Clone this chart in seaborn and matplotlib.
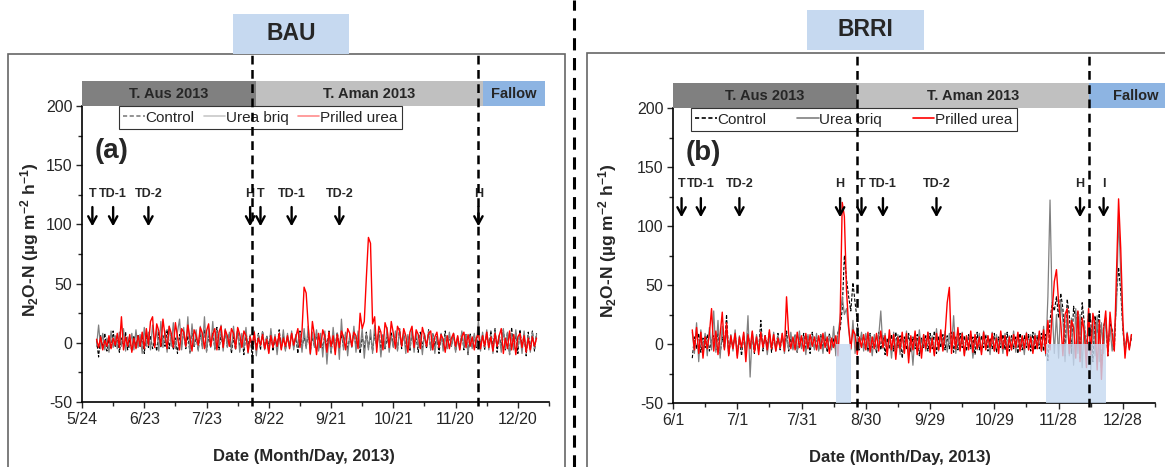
import numpy as np
import pandas as pd
import matplotlib
matplotlib.use('Agg')
import matplotlib.pyplot as plt
import seaborn as sns
from matplotlib.lines import Line2D
from matplotlib.patches import Rectangle

# daily N2O-N flux (ug m-2 h-1)
# BAU site, first value on 2013-05-31
bau_start = '2013-05-31'
bau_control = [2,-12,6,-4,8,-7,3,-5,10,-3, 5,-8,4,-3,9,-6,2,-7,6,-4, 7,-3,5,-9,8,-4,6,-5,3,-7,
               9,-4,6,-3,11,-5,8,-6,4,-9, 7,-3,10,-5,6,-8,12,-4,5,-6, 8,-3,11,-7,6,-4,9,-5,13,-6,
               7,-4,10,-3,8,-9,5,-6,12,-4, 6,-10,9,-3,7,-12,5,-4,8,-6, 10,-5,6,-3,9,-7,4,-5,11,-4,
               7,-6,5,-3,8,-4,6,-9,10,-5, 6,-4,9,-7,5,-3,8,-6,4,-5, 7,-4,10,-8,6,-3,9,-5,7,-4,
               8,-6,5,-3,11,-4,7,-9,6,-5, 9,-4,6,-7,8,-3,10,-5,7,-6, 5,-4,9,-3,7,-6,12,-5,8,-4,
               6,-7,10,-3,5,-8,9,-4,7,-5, 11,-6,8,-3,6,-9,7,-4,10,-5, 6,-3,8,-7,5,-4,9,-6,7,-10,
               8,-4,6,-5,12,-3,7,-6,9,-4, 10,-5,12,-8,7,-4,11,-6,9,-10, 13,-5,8,-9,11,-4,7,-11,9,-6,
               10,-7,8]
bau_urea_briq = [-3,15,-5,8,-6,4,-8,10,-4,6, -5,9,-3,12,-7,5,-4,8,-6,11, -4,7,-9,13,-3,9,-6,15,-2,12,
                 -7,18,-4,10,-8,14,-3,17,-5,9, 20,-6,13,-4,22,-9,16,-3,11,-7, 14,-5,22,-8,12,-4,18,-6,10,-3,
                 15,-7,12,-4,9,-6,14,-3,11,-8, 8,-5,13,-9,6,-4,10,-11,7,-3, 9,-6,5,-8,12,-4,7,-10,6,-5,
                 11,-7,8,-4,10,-6,7,-3,9,-8, 12,-5,14,-10,9,-4,11,-7,8,-12, 10,-18,6,-9,13,-5,8,-14,20,-6,
                 9,-11,7,-4,14,-8,10,-5,12,-13, 8,-6,11,-9,15,-4,9,-12,7,-5, 13,-8,6,-4,10,-7,12,-3,8,-9,
                 7,-5,11,-8,9,-4,6,-10,8,-3, 10,-6,7,-9,5,-4,8,-7,6,-5, 9,-3,7,-8,5,-6,10,-4,7,-9,
                 6,-5,8,-3,20,-7,9,-4,11,-6, 7,-9,10,-3,6,-8,12,-5,9,-10, 8,-6,11,-4,7,-9,10,-7,6,-8,
                 9,-5,7]
bau_prilled = [3,-4,5,-6,2,-3,6,-5,4,-2, 8,-4,22,-6,5,-3,7,-8,4,-5, 6,-3,9,-5,12,-2,18,22,-4,16,
               10,-3,20,6,-5,14,8,-4,17,5, -6,12,9,-3,15,4,-7,11,6,-2, 13,8,-5,10,16,-3,7,12,-6,9,
               14,-4,11,6,-3,12,8,-5,13,7, -4,10,6,-8,5,-3,9,-6,4,-2, 7,-5,3,-9,6,-4,5,-3,8,-6,
               4,-3,6,-5,8,-2,5,12,-4,10, 47,42,14,-9,18,6,-10,8,-4,11, 5,-8,9,-3,6,-10,7,-4,10,5,
               -6,12,8,-3,9,6,-5,25,12,18, 55,89,84,16,22,-8,14,9,-6,17, 11,-4,18,8,-5,14,10,-3,12,6,
               -8,9,14,-4,11,7,-5,13,6,-3, 8,10,-6,5,9,-4,7,3,-8,6, -5,4,8,-3,6,-6,5,9,-4,7,
               -3,5,-6,4,8,-5,6,-3,9,-4, 5,-7,8,-3,6,12,-9,4,-5,10, -6,7,-10,5,8,-4,6,-8,4,-6,
               5,-3,4]

# BRRI site, first value on 2013-06-10
brri_start = '2013-06-10'
brri_control = [-12,6,-4,9,-7,5,-3,8,-6,4, 7,-5,10,-8,6,-4,25,-9,5,-3, 8,-6,4,-10,7,-5,9,-3,6,-8,
                5,-4,20,-6,8,-3,10,-7,6,-4, 9,-5,7,-3,11,-6,5,-4,8,-7, 6,-3,9,-5,7,-8,10,-4,6,-5,
                8,-3,6,-7,9,-4,5,-6,10,12, 30,75,55,40,28,52,35,20,-5,8, -4,7,-6,9,-3,6,-8,10,-5,7,
                -9,5,-4,8,-6,10,-3,7,-12,6, -5,9,-7,6,-4,8,-10,5,-3,7, -6,9,-4,11,-8,6,-3,8,-5,7,
                -4,10,-7,6,-5,9,-3,7,-6,8, -4,6,-9,10,-5,7,-3,8,-6,5, -4,9,-7,6,-3,8,-5,10,-6,7,
                -4,6,-8,9,-5,7,-3,8,-6,10, -5,7,-4,9,-6,8,-14,20,35,28, 40,22,43,30,-10,38,25,-8,32,20,
                28,-12,35,18,-6,26,20,-15,24,10, 28,-20,15,22,-10,18,12,-5,40,65, 45,12,-6,8,-3,5]
brri_urea_briq = [10,-8,18,-15,12,-6,9,-10,14,-5, 28,-7,20,-12,15,-4,11,-9,8,-6, 12,-10,7,-5,9,-8,24,-28,10,-4,
                  8,-6,11,-3,7,-9,5,-4,10,-6, 7,-3,9,-8,6,-4,10,-5,8,-7, 11,-4,6,-9,8,-3,7,-5,9,-6,
                  6,-8,10,-4,7,-5,15,-10,8,22, 40,25,30,12,-5,20,-8,6,-4,10, -6,9,-3,7,-10,8,-5,6,28,-4,
                  9,-7,6,-12,10,-5,8,-9,7,-4, 11,-8,6,-18,9,-5,12,-7,8,-6, 10,-4,7,-9,13,-6,8,-5,11,-7,
                  9,-4,24,-8,6,-5,10,-9,7,-3, 8,-12,6,-5,9,-7,11,-4,7,-9, 10,-6,8,-3,6,-8,9,-4,7,-5,
                  11,-7,8,-4,6,-9,10,-5,8,-6, 9,-4,7,-6,15,-10,40,122,30,-8, 25,-12,35,20,-15,28,-10,22,-18,30,
                  -8,25,-20,18,-12,30,-22,20,-10,24, -15,18,-8,22,-5,15,-6,10,30,108, 60,15,-8,10,-4,8]
brri_prilled = [12,-5,14,-8,10,-12,6,-4,9,30, -6,11,-9,8,27,-5,18,-10,7,-4, 9,-12,6,-3,10,-15,8,-4,11,-7,
                6,-9,10,-3,7,-5,12,-4,8,-6, 5,-3,9,-6,40,8,-4,6,-5,10, -3,7,-6,9,-4,8,-2,6,-5,7,
                -4,9,-3,6,-8,5,-3,7,-10,20, 120,108,45,15,-4,12,8,-9,6,-3, 8,-5,10,-7,6,-4,9,-6,11,-3,
                7,-10,12,-5,8,-13,6,-4,10,-8, 9,-16,7,-5,11,-9,6,-12,8,-4, 10,-7,5,-10,9,-5,12,-6,8,35,
                48,-8,10,-4,14,-6,9,-10,7,-5, 11,-7,8,-4,6,-9,10,-5,7,-3, 9,-6,5,-8,11,-4,7,-10,6,-5,
                8,-3,10,-6,7,-4,9,-5,6,-8, 7,-4,11,-6,12,-8,20,-5,28,53, 63,35,18,-10,25,30,-8,20,14,-12,
                28,-15,22,10,-20,30,-9,26,16,-22, 20,-30,12,28,-10,27,8,-6,60,123, 81,20,-12,9,-5,8]

# crop seasons
bau_phases = [('2013-05-24', '2013-08-16', 'T. Aus 2013'), ('2013-08-16', '2013-12-03', 'T. Aman 2013'),
              ('2013-12-03', '2014-01-02', 'Fallow')]
brri_phases = [('2013-06-01', '2013-08-26', 'T. Aus 2013'), ('2013-08-26', '2013-12-12', 'T. Aman 2013'),
               ('2013-12-12', '2014-01-25', 'Fallow')]
bau_season_lines = ['2013-08-14', '2013-12-01']
brri_season_lines = ['2013-08-26', '2013-12-12']
# management events (T, TD, H, I)
bau_event_labels = ['T', 'TD-1', 'TD-2', 'H', 'T', 'TD-1', 'TD-2', 'H']
bau_event_dates = ['2013-05-29', '2013-06-08', '2013-06-25', '2013-08-13', '2013-08-18', '2013-09-02',
                   '2013-09-25', '2013-12-01']
brri_event_labels = ['T', 'TD-1', 'TD-2', 'H', 'T', 'TD-1', 'TD-2', 'H', 'I']
brri_event_dates = ['2013-06-05', '2013-06-14', '2013-07-02', '2013-08-18', '2013-08-28', '2013-09-07',
                    '2013-10-02', '2013-12-08', '2013-12-19']
brri_shade = [('2013-08-16', '2013-08-23'), ('2013-11-22', '2013-12-20')]

sns.set_style('ticks')
plt.rcParams['font.family'] = ['Liberation Sans', 'DejaVu Sans']
plt.rcParams['axes.unicode_minus'] = False
plt.rcParams['mathtext.fontset'] = 'custom'
plt.rcParams['mathtext.rm'] = 'Liberation Sans:bold'
plt.rcParams['mathtext.bf'] = 'Liberation Sans:bold'
plt.rcParams['mathtext.it'] = 'Liberation Sans:bold'

W, H = 1165, 467
fig = plt.figure(figsize=(W / 100, H / 100), dpi=100)

# outer frames, separator, site titles
fig.add_artist(Rectangle((8 / W, -0.1), (565 - 8) / W, 0.1 + 1 - 54 / H, transform=fig.transFigure,
                         fill=False, ec='#666666', lw=1.2))
fig.add_artist(Rectangle((587 / W, -0.1), 0.6, 0.1 + 1 - 53 / H, transform=fig.transFigure,
                         fill=False, ec='#666666', lw=1.2))
fig.add_artist(Line2D([574 / W, 574 / W], [0, 1], transform=fig.transFigure, color='k', lw=2.2,
                      ls=(0, (4, 2.5))))
for x0, x1, y0, y1, name in [(233, 349, 14, 54, 'BAU'), (807, 924, 10, 50, 'BRRI')]:
    fig.add_artist(Rectangle((x0 / W, 1 - y1 / H), (x1 - x0) / W, (y1 - y0) / H, transform=fig.transFigure,
                             fc='#c6d9f0', ec='none', zorder=3))
    fig.text((x0 + x1) / 2 / W, 1 - (y0 + y1) / 2 / H, name, ha='center', va='center', fontsize=16.5,
             fontweight='bold', zorder=4)


def draw_panel(ax, start, ctrl, briq, prill, xstart, ndays, phases, lines, ev_labels, ev_dates,
               label_y, arrow_top, arrow_tip, tag, legend_x, light_legend, colspace, top_frac):
    dates = pd.date_range(start, periods=len(ctrl), freq='D')
    sns.lineplot(x=dates, y=ctrl, ax=ax, color='k', lw=0.8, linestyle=(0, (3, 1.5)))
    sns.lineplot(x=pd.date_range(start, periods=len(briq), freq='D'), y=briq, ax=ax, color='#808080', lw=0.9)
    sns.lineplot(x=pd.date_range(start, periods=len(prill), freq='D'), y=prill, ax=ax, color='#ff0000', lw=1.0)

    x0 = pd.Timestamp(xstart)
    ax.set_xlim(x0, x0 + pd.Timedelta(days=ndays))
    ax.set_ylim(-50, 200)
    major = [x0 + pd.Timedelta(days=30 * k) for k in range(8)]
    minor = [x0 + pd.Timedelta(days=15 + 30 * k) for k in range(8)]
    ax.set_xticks(major)
    ax.set_xticklabels([f'{d.month}/{d.day}' for d in major])
    ax.set_xticks(minor, minor=True)
    ax.set_yticks([-50, 0, 50, 100, 150, 200])
    ax.set_yticks([-25, 25, 75, 125, 175], minor=True)
    ax.tick_params(axis='both', which='major', labelsize=11.5, length=4, width=1, direction='out', pad=3)
    ax.tick_params(axis='both', which='minor', length=3, width=1, direction='out')
    sns.despine(ax=ax)
    for s in ['left', 'bottom']:
        ax.spines[s].set_linewidth(1.2)
        ax.spines[s].set_color('k')

    phase_cols = ['#808080', '#c0c0c0', '#8db4e2']
    for (p0, p1, name), c in zip(phases, phase_cols):
        a, b = pd.Timestamp(p0), pd.Timestamp(p1)
        ax.add_patch(Rectangle((a, 200), b - a, 21, fc=c, ec='none', clip_on=False, zorder=4))
        ax.text(a + (b - a) / 2, 210.5, name, ha='center', va='center', fontsize=10.5, fontweight='bold',
                clip_on=False, zorder=5)

    for d in lines:
        ax.axvline(pd.Timestamp(d), ymin=-0.012, ymax=top_frac, clip_on=False, color='k', lw=1.8,
                   ls=(0, (3.5, 2.2)), zorder=7)

    for lab, d in zip(ev_labels, ev_dates):
        t = pd.Timestamp(d)
        ax.annotate('', xy=(t, arrow_tip), xytext=(t, arrow_top),
                    arrowprops=dict(arrowstyle='->,head_length=0.55,head_width=0.3', lw=1.7, color='k'))
        ax.text(t, label_y, lab, ha='center', va='center', fontsize=9, fontweight='bold')

    ax.text(0.026, 0.847, tag, transform=ax.transAxes, fontsize=20, fontweight='bold', va='center')

    if light_legend:
        cols = ['#808080', '#c8c8c8', '#ff8c8c']
    else:
        cols = ['k', '#808080', '#ff0000']
    handles = [Line2D([], [], color=cols[0], ls=(0, (2.5, 1.5)), lw=1.2),
               Line2D([], [], color=cols[1], lw=1.2),
               Line2D([], [], color=cols[2], lw=1.2)]
    leg = ax.legend(handles, ['Control', 'Urea briq', 'Prilled urea'], ncol=3, loc='upper left',
                    bbox_to_anchor=(legend_x, 1.0), borderaxespad=0, fontsize=11, handlelength=1.4,
                    handletextpad=0.05, columnspacing=colspace, frameon=True, fancybox=False,
                    borderpad=0.3, framealpha=1)
    leg.get_frame().set_edgecolor('#333333')
    leg.get_frame().set_linewidth(0.8)
    leg.set_zorder(6)

    ax.set_xlabel('Date (Month/Day, 2013)', fontsize=12, fontweight='bold')
    ax.set_ylabel('N$_2$O-N (µg m$^{-2}$ h$^{-1}$)', fontsize=12.5, fontweight='bold')


ax_a = fig.add_axes([82 / W, 1 - 402 / H, (549 - 82) / W, (402 - 106) / H])
draw_panel(ax_a, bau_start, bau_control, bau_urea_briq, bau_prilled, '2013-05-24', 220, bau_phases,
           bau_season_lines, bau_event_labels, bau_event_dates, 126, 117, 96, '(a)', 0.079, True, 0.6, 1.176)
ax_a.xaxis.set_label_coords(0.475, -0.16)
ax_a.yaxis.set_label_coords(-0.088, 0.55)

ax_b = fig.add_axes([673 / W, 1 - 403 / H, (1155 - 673) / W, (403 - 108) / H])
draw_panel(ax_b, brri_start, brri_control, brri_urea_briq, brri_prilled, '2013-06-01', 223, brri_phases,
           brri_season_lines, brri_event_labels, brri_event_dates, 136, 126, 105, '(b)', 0.037, False, 2.0, 1.186)
for s0, s1 in brri_shade:
    a, b = pd.Timestamp(s0), pd.Timestamp(s1)
    ax_b.add_patch(Rectangle((a, -50), b - a, 50, fc='#c5d9f1', ec='none', alpha=0.8, zorder=3))
ax_b.xaxis.set_label_coords(0.47, -0.16)
ax_b.yaxis.set_label_coords(-0.112, 0.55)

fig.savefig('out.png', dpi=100)
